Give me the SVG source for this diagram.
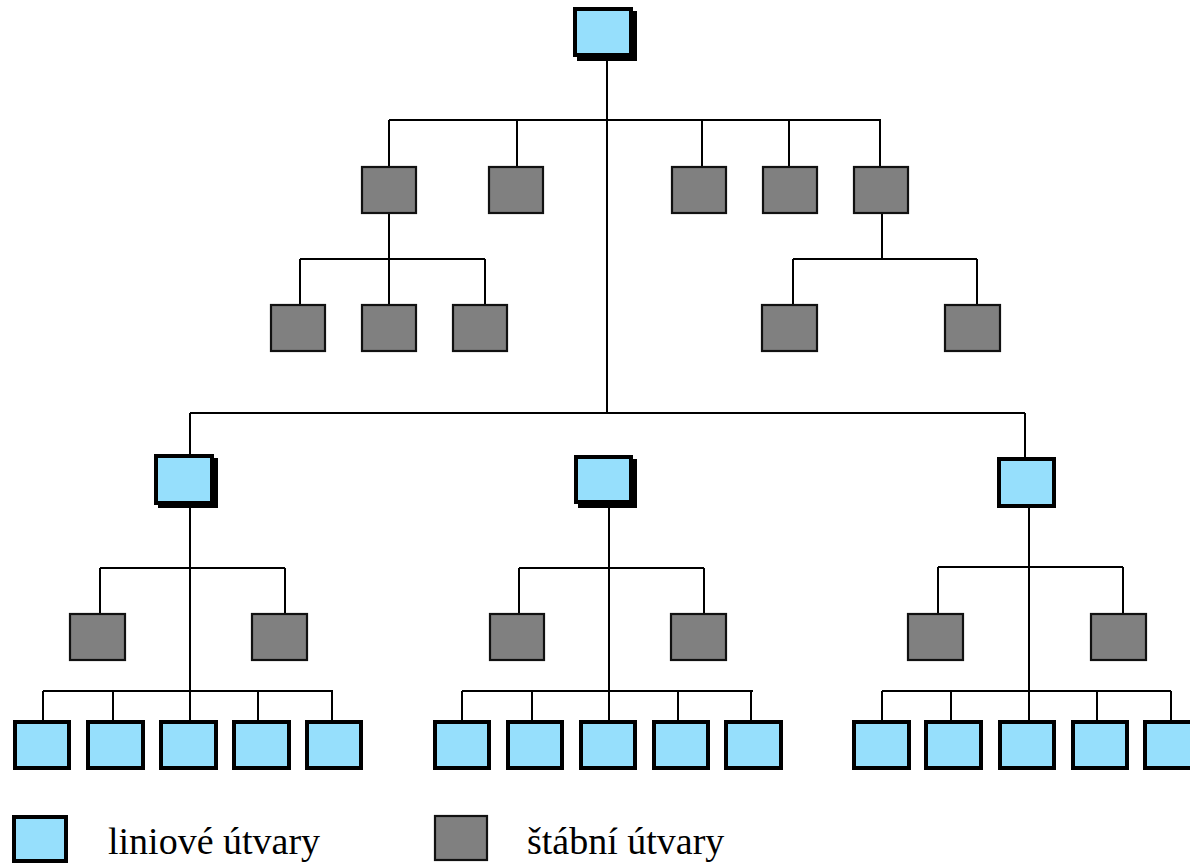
<svg xmlns="http://www.w3.org/2000/svg" width="1190" height="863" viewBox="0 0 1190 863">
<style>
.line{fill:#96dffc;stroke:#000;stroke-width:4}
.shadow{fill:#000}
.staff{fill:#808080;stroke:#111;stroke-width:2.2}
.c{stroke:#000;stroke-width:2;fill:none}
.lbl{font-family:"Liberation Serif","Times New Roman",serif;font-size:38px;fill:#000}
</style>
<rect width="1190" height="863" fill="#fff"/>
<g id="connectors">
<path class="c" d="M607 57V413 M389 120H881 M389 120V166 M517 120V166 M702 120V166 M789 120V166 M880 120V166"/>
<path class="c" d="M389 214V259 M300 259H485 M300 259V304 M389 259V304 M485 259V304"/>
<path class="c" d="M882 214V259 M793 259H977 M793 259V304 M977 259V304"/>
<path class="c" d="M190 413H1025 M190 413V454 M1025 413V457"/>
<path class="c" d="M190 505V720 M100 568H285 M100 568V613 M285 568V613 M43 691H333 M43 691V720 M113 691V720 M258 691V720 M332 691V720"/>
<path class="c" d="M609 504V720 M519 568H704 M519 568V613 M704 568V613 M462 691H753 M462 691V720 M532 691V720 M678 691V720 M751 691V720"/>
<path class="c" d="M1029 508V720 M938 567H1123 M938 567V613 M1123 567V613 M882 691H1171 M882 691V720 M951 691V720 M1097 691V720 M1171 691V720"/>
</g>
<g id="top"><rect class="shadow" x="577" y="11" width="60" height="50"/><rect class="line" x="575" y="9" width="56" height="46"/></g>
<g id="s1"><rect class="staff" x="362" y="167" width="54" height="46"/></g>
<g id="s2"><rect class="staff" x="489" y="167" width="54" height="46"/></g>
<g id="s3"><rect class="staff" x="672" y="167" width="54" height="46"/></g>
<g id="s4"><rect class="staff" x="763" y="167" width="54" height="46"/></g>
<g id="s5"><rect class="staff" x="854" y="167" width="54" height="46"/></g>
<g id="s11"><rect class="staff" x="271" y="305" width="54" height="46"/></g>
<g id="s12"><rect class="staff" x="362" y="305" width="54" height="46"/></g>
<g id="s13"><rect class="staff" x="453" y="305" width="54" height="46"/></g>
<g id="s51"><rect class="staff" x="762" y="305" width="55" height="46"/></g>
<g id="s52"><rect class="staff" x="945" y="305" width="55" height="46"/></g>
<g id="L"><rect class="shadow" x="158" y="458" width="60" height="50"/><rect class="line" x="156" y="456" width="56" height="47"/></g>
<g id="M"><rect class="shadow" x="578" y="459" width="59" height="49"/><rect class="line" x="576" y="457" width="55" height="45"/></g>
<g id="R"><rect class="line" x="999" y="459" width="55" height="47"/></g>
<g id="Ls1"><rect class="staff" x="70" y="614" width="55" height="46"/></g>
<g id="Ls2"><rect class="staff" x="252" y="614" width="55" height="46"/></g>
<g id="Ms1"><rect class="staff" x="490" y="614" width="54" height="46"/></g>
<g id="Ms2"><rect class="staff" x="671" y="614" width="55" height="46"/></g>
<g id="Rs1"><rect class="staff" x="908" y="614" width="55" height="46"/></g>
<g id="Rs2"><rect class="staff" x="1091" y="614" width="55" height="46"/></g>
<g id="Lb1"><rect class="line" x="15" y="722" width="54" height="46"/></g>
<g id="Lb2"><rect class="line" x="88" y="722" width="55" height="46"/></g>
<g id="Lb3"><rect class="line" x="161" y="722" width="55" height="46"/></g>
<g id="Lb4"><rect class="line" x="234" y="722" width="55" height="46"/></g>
<g id="Lb5"><rect class="line" x="307" y="722" width="54" height="46"/></g>
<g id="Mb1"><rect class="line" x="435" y="722" width="54" height="46"/></g>
<g id="Mb2"><rect class="line" x="508" y="722" width="54" height="46"/></g>
<g id="Mb3"><rect class="line" x="581" y="722" width="54" height="46"/></g>
<g id="Mb4"><rect class="line" x="654" y="722" width="54" height="46"/></g>
<g id="Mb5"><rect class="line" x="726" y="722" width="55" height="46"/></g>
<g id="Rb1"><rect class="line" x="854" y="722" width="55" height="46"/></g>
<g id="Rb2"><rect class="line" x="926" y="722" width="55" height="46"/></g>
<g id="Rb3"><rect class="line" x="1000" y="722" width="54" height="46"/></g>
<g id="Rb4"><rect class="line" x="1073" y="722" width="54" height="46"/></g>
<g id="Rb5"><rect class="line" x="1145" y="722" width="55" height="46"/></g>
<g id="legend">
<rect class="line" x="14" y="817" width="52" height="44"/>
<text class="lbl" x="108" y="854">liniové útvary</text>
<rect class="staff" x="435" y="816" width="52" height="44"/>
<text class="lbl" x="527" y="854">štábní útvary</text>
</g>
</svg>
